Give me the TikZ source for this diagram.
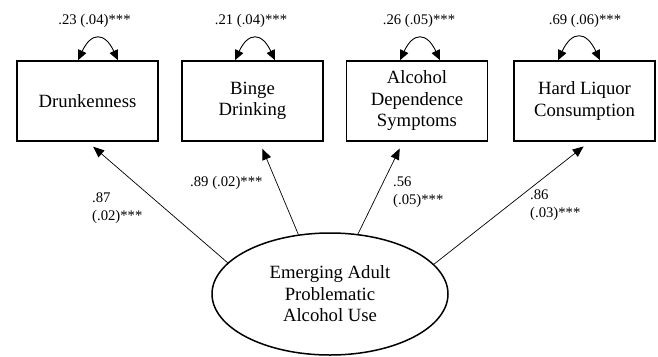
\documentclass[tikz,border=0pt]{standalone}
\usepackage{fontspec}
\setmainfont{Liberation Serif}
\usetikzlibrary{arrows.meta,shapes.geometric,calc}

\begin{document}
\begin{tikzpicture}[x=1pt, y=1pt,
  measure/.style={draw, line width=1.6pt, minimum width=141pt, minimum height=80pt, inner sep=0pt, align=center, font=\fontsize{18.7}{21.5}\selectfont},
  factor/.style={draw, ellipse, line width=1.5pt, minimum width=236pt, minimum height=122pt, inner sep=0pt, align=center, font=\fontsize{18.7}{21.5}\selectfont},
  est/.style={inner sep=0pt, align=left, font=\fontsize{14.7}{18}\selectfont},
  load/.style={line width=0.7pt, -{Triangle[length=11pt,width=9pt]}, shorten >=7.5pt},
  resid/.style={line width=0.9pt, {Triangle[length=10pt,width=9pt]}-{Triangle[length=10pt,width=9pt]}}]
\useasboundingbox (0,0) rectangle (658,-356);

% observed indicators
\node[measure] (drunk) at (87.5,-101) {Drunkenness};
\node[measure] (binge) at (252.5,-101) {Binge\\Drinking};
\node[measure] (depend) at (417,-101) {Alcohol\\Dependence\\Symptoms};
\node[measure] (liquor) at (584.5,-101) {Hard Liquor\\Consumption};

% latent factor
\node[factor] (use) at (330,-294) {Emerging Adult\\Problematic\\Alcohol Use};

% loadings
\draw[load] (use.163.6) -- (drunk.south);
\draw[load] (use.118.4) -- ($(binge.south)+(7,0)$);
\draw[load] (use.65.7) -- ($(depend.south)+(-14,0)$);
\draw[load] (use.16.8) -- ($(liquor.south)+(5,0)$);

\node[est, anchor=north west] (l1) at (92,-192.7) {.87\\(.02)***};
\node[est, anchor=base west] (l2) at (190,-186) {.89 (.02)***};
\node[est, anchor=north west] (l3) at (393,-176.7) {.56\\(.05)***};
\node[est, anchor=north west] (l4) at (530,-189.7) {.86\\(.03)***};

% residual variances
\draw[resid] ($(drunk.north)+(-9.5,0)$) to[out=65,in=115,looseness=2] ($(drunk.north)+(30.5,0)$);
\draw[resid] ($(binge.north)+(-17.5,0)$) to[out=65,in=115,looseness=2] ($(binge.north)+(22.5,0)$);
\draw[resid] ($(depend.north)+(-17,0)$) to[out=65,in=115,looseness=2] ($(depend.north)+(23,0)$);
\draw[resid] ($(liquor.north)+(-26.5,0)$) to[out=65,in=115,looseness=2] ($(liquor.north)+(15.5,0)$);

\node[est, anchor=base] (v1) at ($(drunk.north)+(7,36)$) {.23 (.04)***};
\node[est, anchor=base] (v2) at ($(binge.north)+(-1.5,36)$) {.21 (.04)***};
\node[est, anchor=base] (v3) at ($(depend.north)+(2,36)$) {.26 (.05)***};
\node[est, anchor=base] (v4) at ($(liquor.north)+(0.5,36)$) {.69 (.06)***};
\end{tikzpicture}
\end{document}
